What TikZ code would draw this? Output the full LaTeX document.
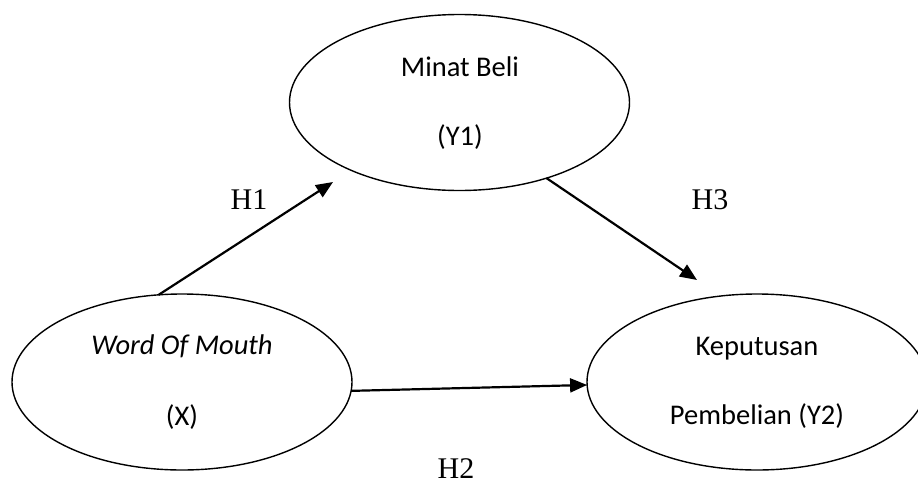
\documentclass[tikz,border=0pt]{standalone}
\usepackage{fontspec}
\setmainfont{Carlito}
\newfontfamily\timesfont{Liberation Serif}
\usetikzlibrary{shapes.geometric,arrows.meta}
\tikzset{
  varbox/.style={ellipse,draw=black,line width=1.4pt,inner sep=0pt,outer sep=0pt,
    minimum width=340pt,minimum height=176pt},
  vartext/.style={anchor=base,inner sep=0pt,font=\fontsize{28.5}{34}\selectfont},
  hyplabel/.style={anchor=base,inner sep=0pt,font=\timesfont\fontsize{30}{36}\selectfont},
  hyparrow/.style={line width=2.2pt,-{Triangle[length=17pt,width=14pt]}}
}
\begin{document}
\begin{tikzpicture}[x=1pt,y=-1pt]
\useasboundingbox (0,0) rectangle (918,485);
\node[varbox] (minat) at (459.5,102.5) {};
\node[varbox] (wom) at (182,382) {};
\node[varbox] (kep) at (757,382) {};
\node[vartext] (minatA) at (460,76) {Minat Beli};
\node[vartext] (minatB) at (460,145) {(Y1)};
\node[vartext] (womA) at (182,354) {\itshape Word Of Mouth};
\node[vartext] (womB) at (182,425) {(X)};
\node[vartext] (kepA) at (757,355) {Keputusan};
\node[vartext] (kepB) at (757,424) {Pembelian (Y2)};
\coordinate (h1tip) at (333,182);
\coordinate (h3tip) at (697,280);
\draw[hyparrow] (wom.105) -- (h1tip);
\draw[hyparrow] (minat.-41.5) -- (h3tip);
\draw[hyparrow] (wom.-3) -- (kep.181.3);
\node[hyplabel] (h1) at (249,209) {H1};
\node[hyplabel] (h3) at (710,209) {H3};
\node[hyplabel] (h2) at (456,478) {H2};
\end{tikzpicture}
\end{document}
